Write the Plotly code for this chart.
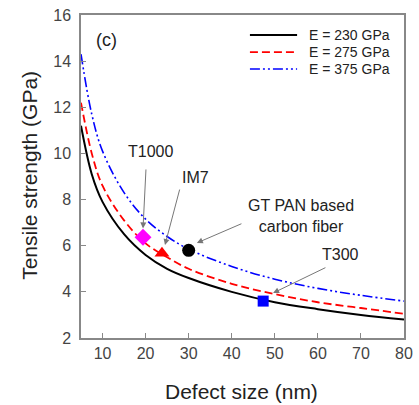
import plotly.graph_objects as go

# Defect size (nm)
defect_size = [5, 7.5, 10, 15, 20, 25, 30, 40, 50, 60, 70, 80]
# Tensile strength (GPa)
strength_230 = [11.2, 9.1, 7.9, 6.5, 5.6, 5.0, 4.6, 4.0, 3.55, 3.25, 3.0, 2.8]
strength_275 = [12.2, 10.0, 8.6, 7.1, 6.1, 5.5, 5.0, 4.35, 3.9, 3.55, 3.3, 3.05]
strength_375 = [14.3, 11.7, 10.1, 8.3, 7.15, 6.4, 5.85, 5.1, 4.55, 4.15, 3.85, 3.6]
series_names = ["E = 230 GPa", "E = 275 GPa", "E = 375 GPa"]

# Fibers
fiber_names = ["T1000", "IM7", "GT PAN based<br>carbon fiber", "T300"]
fiber_x = [19.4, 23.8, 30.0, 47.3]
fiber_y = [6.37, 5.67, 5.8, 3.6]
fiber_symbols = ["diamond", "triangle-up", "circle", "square"]
fiber_colors = ["#ff00ff", "#ff0000", "#000000", "#0000ff"]
fiber_sizes = [13, 13, 13, 11]
# label positions and arrow tails / heads (data units)
label_x = [21.2, 31.6, 56.0, 65.3]
label_y = [10.1, 8.94, 7.3, 5.62]
arrow_tail_x = [20.1, 28.0, 42.6, 62.1]
arrow_tail_y = [9.37, 8.5, 6.98, 5.08]
arrow_head_x = [19.4, 24.5, 31.9, 49.6]
arrow_head_y = [6.75, 6.03, 6.12, 3.95]

FONT = "Liberation Sans, Arial, sans-serif"

fig = go.Figure()
styles = [
    dict(color="#000000", width=2, dash="solid"),
    dict(color="#ff0000", width=1.8, dash="8px,4px"),
    dict(color="#0000ff", width=1.6, dash="10px,3px,2px,3px,2px,3px"),
]
for name, ys, st in zip(series_names, [strength_230, strength_275, strength_375], styles):
    fig.add_trace(go.Scatter(x=defect_size, y=ys, mode="lines", name=name,
                             line=dict(shape="spline", smoothing=1.0, **st), showlegend=False))

for i in range(len(fiber_names)):
    fig.add_trace(go.Scatter(x=[fiber_x[i]], y=[fiber_y[i]], mode="markers",
                             marker=dict(symbol=fiber_symbols[i], color=fiber_colors[i], size=fiber_sizes[i],
                                         line=dict(width=0)),
                             showlegend=False))
    fig.add_annotation(x=label_x[i], y=label_y[i], text=fiber_names[i], showarrow=False,
                       font=dict(size=16, color="#222222", family=FONT))
    fig.add_annotation(x=arrow_head_x[i], y=arrow_head_y[i], ax=arrow_tail_x[i], ay=arrow_tail_y[i],
                       axref="x", ayref="y", text="", showarrow=True, arrowhead=2,
                       arrowsize=1.2, arrowwidth=1, arrowcolor="#777777")

fig.add_annotation(x=11.0, y=14.9, text="(c)", showarrow=False,
                   font=dict(size=18, color="#222222", family=FONT))

# manual legend (line samples + labels) in paper coordinates
legend_rows_y = [0.938, 0.885, 0.833]
for name, st, yy in zip(series_names, styles, legend_rows_y):
    fig.add_shape(type="line", xref="paper", yref="paper", x0=0.523, x1=0.669, y0=yy, y1=yy,
                  line=dict(color=st["color"], width=st["width"], dash=st["dash"]))
    fig.add_annotation(xref="paper", yref="paper", x=0.70, y=yy, text=name, showarrow=False,
                       xanchor="left", yanchor="middle",
                       font=dict(size=14, color="#222222", family=FONT))

# axis titles
fig.add_annotation(xref="paper", yref="paper", x=0.498, y=-0.167, text="Defect size (nm)",
                   showarrow=False, xanchor="center", yanchor="middle",
                   font=dict(size=21, color="#222222", family=FONT))
fig.add_annotation(xref="paper", yref="paper", x=-0.158, y=0.505, text="Tensile strength (GPa)",
                   showarrow=False, xanchor="center", yanchor="middle", textangle=-90,
                   font=dict(size=21, color="#222222", family=FONT))

axis_common = dict(showline=True, linecolor="#888888", linewidth=1.5, mirror=True,
                   ticks="inside", ticklen=5, tickcolor="#888888", showgrid=False, zeroline=False,
                   automargin=False,
                   tickfont=dict(size=16, color="#444444", family=FONT))
fig.update_xaxes(range=[5, 80], tickvals=[10, 20, 30, 40, 50, 60, 70, 80], **axis_common)
fig.update_yaxes(range=[2, 16], tickvals=[2, 4, 6, 8, 10, 12, 14, 16], ticklabelstandoff=5,
                 **axis_common)

fig.update_layout(
    width=419, height=405,
    margin=dict(l=81, r=15, t=15, b=67),
    paper_bgcolor="white", plot_bgcolor="white",
    showlegend=False,
)

fig.write_html("out.html")
